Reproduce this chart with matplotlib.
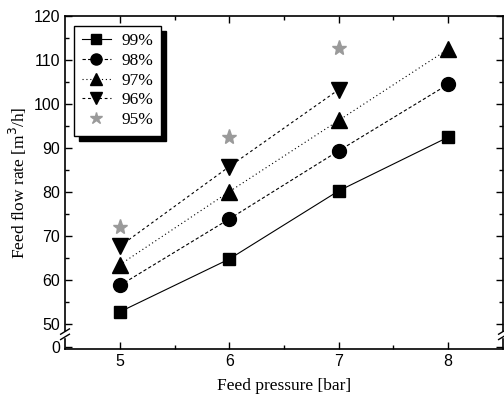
import matplotlib
matplotlib.use("Agg")
import matplotlib.pyplot as plt
from matplotlib.lines import Line2D
from matplotlib.patches import Rectangle

# Data
pressure = [5, 6, 7, 8]
flow_99 = [52.8, 64.8, 80.3, 92.5]
flow_98 = [58.8, 73.9, 89.4, 104.5]
flow_97 = [63.5, 80.1, 96.3, 112.5]
flow_96 = [67.7, 85.8, 103.3]
flow_95 = [72.0, 92.5, 112.7]

ytick_vals = [44.8, 50, 60, 70, 80, 90, 100, 110, 120]
ytick_labels = ['0', '50', '60', '70', '80', '90', '100', '110', '120']

serif = 'Liberation Serif'
sans = 'Liberation Sans'

fig = plt.figure(figsize=(5.04, 4.01), dpi=100)
ax = fig.add_axes([0.129, 0.130, 0.869, 0.830])

ax.plot(pressure, flow_99, color='black', lw=0.8, ls='-', marker='s', ms=9, label='99%')
ax.plot(pressure, flow_98, color='black', lw=0.8, ls=(0, (3, 2)), marker='o', ms=10, label='98%')
ax.plot(pressure, flow_97, color='black', lw=0.8, ls=(0, (1, 2.5)), marker='^', ms=11, label='97%')
ax.plot(pressure[:3], flow_96, color='black', lw=0.8, ls=(0, (2.5, 2.5)), marker='v', ms=11, label='96%')
ax.plot(pressure[:3], flow_95, color='#9a9a9a', lw=0, marker='*', ms=11, label='95%')

ax.set_xlim(4.5, 8.5)
ax.set_ylim(44.4, 120)
ax.set_xticks(pressure)
ax.set_xticks([5.5, 6.5, 7.5], minor=True)
ax.set_yticks(ytick_vals)
ax.set_yticklabels(ytick_labels)
ax.set_yticks([55, 65, 75, 85, 95, 105, 115], minor=True)
ax.tick_params(which='both', direction='in', top=True, right=True, width=1)
ax.tick_params(which='major', length=5, labelsize=11.5)
ax.tick_params(which='minor', length=3)
for lab in ax.get_xticklabels() + ax.get_yticklabels():
    lab.set_fontfamily(sans)
for sp in ax.spines.values():
    sp.set_linewidth(1.2)

ax.set_xlabel('Feed pressure [bar]', family=serif, fontsize=12.5, labelpad=7)
ax.set_ylabel('Feed flow rate [m$^3$/h]', family=serif, fontsize=12.5, labelpad=3)

# axis break marks on both y spines
for xs in (0.0, 1.0):
    ax.add_patch(Rectangle((xs - 0.01, 0.036), 0.02, 0.016, transform=ax.transAxes,
                           color='white', clip_on=False, zorder=5))
    for yb in (0.036, 0.052):
        ax.add_line(Line2D([xs - 0.01, xs + 0.01], [yb - 0.008, yb + 0.008],
                           transform=ax.transAxes, color='black', lw=1.0,
                           clip_on=False, zorder=6))

leg = ax.legend(loc='upper left', bbox_to_anchor=(0.012, 0.982), frameon=True,
                fancybox=False, handlelength=1.7, handletextpad=0.6,
                labelspacing=0.2, borderpad=0.45, borderaxespad=0.2,
                markerscale=0.8, fontsize=12.5)
for t in leg.get_texts():
    t.set_fontfamily(serif)
leg.get_frame().set_edgecolor('black')
leg.get_frame().set_linewidth(1.0)
leg.get_frame().set_alpha(1)
leg.set_zorder(10)

# black drop shadow behind the legend
fig.canvas.draw()
bb = leg.get_window_extent().transformed(ax.transAxes.inverted())
ox = 5 / ax.bbox.width
oy = 5 / ax.bbox.height
ax.add_patch(Rectangle((bb.x0 + ox, bb.y0 - oy), bb.width, bb.height,
                       transform=ax.transAxes, color='black', zorder=9))

fig.savefig('out.png', dpi=100)
